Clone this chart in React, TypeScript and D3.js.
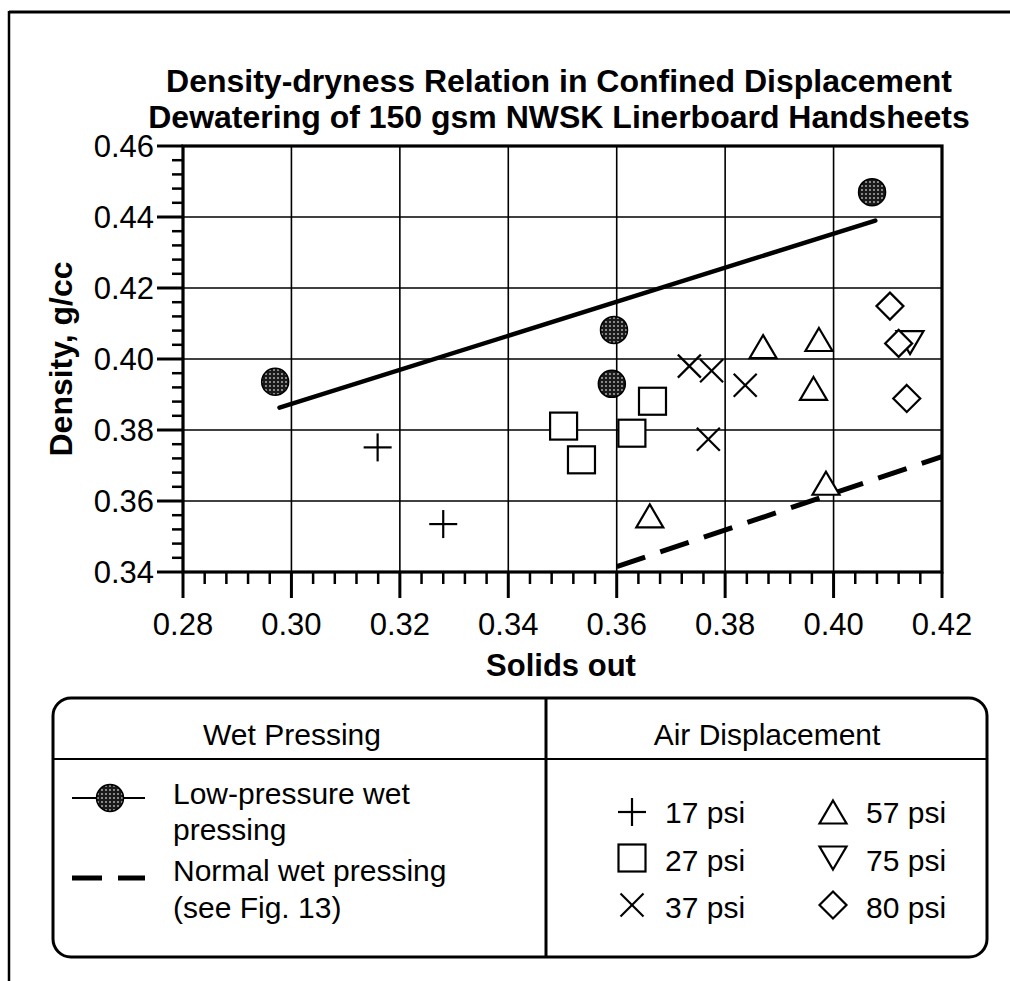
import React from "react";
import * as d3 from "d3";

const W = 1010;
const H = 981;

// ---- data ----
const xTicks = [0.28, 0.30, 0.32, 0.34, 0.36, 0.38, 0.40, 0.42];
const yTicks = [0.34, 0.36, 0.38, 0.40, 0.42, 0.44, 0.46];

const lowPressurePts: [number, number][] = [
  [0.2970, 0.3936],
  [0.3595, 0.4082],
  [0.3591, 0.3930],
  [0.4071, 0.4470],
];
const lowPressureFit: [number, number][] = [
  [0.2978, 0.3863],
  [0.4077, 0.4390],
];
const normalFit: [number, number][] = [
  [0.3600, 0.3415],
  [0.4200, 0.3725],
];
const psi17: [number, number][] = [
  [0.3159, 0.3751],
  [0.3280, 0.3535],
];
const psi27: [number, number][] = [
  [0.3502, 0.3811],
  [0.3535, 0.3716],
  [0.3628, 0.3791],
  [0.3666, 0.3881],
];
const psi37: [number, number][] = [
  [0.3734, 0.3980],
  [0.3775, 0.3967],
  [0.3837, 0.3926],
  [0.3769, 0.3774],
];
const psi57: [number, number][] = [
  [0.3870, 0.4035],
  [0.3973, 0.4055],
  [0.3963, 0.3917],
  [0.3986, 0.3650],
  [0.3661, 0.3558],
];
const psi75: [number, number][] = [[0.4141, 0.4046]];
const psi80: [number, number][] = [
  [0.4104, 0.4149],
  [0.4120, 0.4044],
  [0.4135, 0.3889],
];

const titleLines = [
  "Density-dryness Relation in Confined Displacement",
  "Dewatering of 150 gsm NWSK Linerboard Handsheets",
];
const airLegend = [
  { label: "17 psi", shape: "plus" },
  { label: "27 psi", shape: "square" },
  { label: "37 psi", shape: "cross" },
  { label: "57 psi", shape: "up" },
  { label: "75 psi", shape: "down" },
  { label: "80 psi", shape: "diamond" },
];

const FONT = "'Liberation Sans', Arial, Helvetica, sans-serif";

const x = d3.scaleLinear().domain([0.28, 0.42]).range([183, 942]);
const y = d3.scaleLinear().domain([0.34, 0.46]).range([572, 146]);

function Marker({ shape, cx, cy }: { shape: string; cx: number; cy: number }) {
  const sw = 2.2;
  if (shape === "plus") {
    const a = 14;
    return (
      <g stroke="#000" strokeWidth={sw}>
        <line x1={cx - a} y1={cy} x2={cx + a} y2={cy} />
        <line x1={cx} y1={cy - a} x2={cx} y2={cy + a} />
      </g>
    );
  }
  if (shape === "cross") {
    const a = 11.5;
    return (
      <g stroke="#000" strokeWidth={sw}>
        <line x1={cx - a} y1={cy - a} x2={cx + a} y2={cy + a} />
        <line x1={cx - a} y1={cy + a} x2={cx + a} y2={cy - a} />
      </g>
    );
  }
  if (shape === "square") {
    const a = 13.5;
    return <rect x={cx - a} y={cy - a} width={2 * a} height={2 * a} fill="#fff" stroke="#000" strokeWidth={sw} />;
  }
  if (shape === "up") {
    const w = 13.5, h = 11.5;
    return (
      <path d={`M${cx},${cy - h}L${cx + w},${cy + h}L${cx - w},${cy + h}Z`} fill="#fff" stroke="#000" strokeWidth={sw} />
    );
  }
  if (shape === "down") {
    const w = 13.5, h = 11.5;
    return (
      <path d={`M${cx},${cy + h}L${cx + w},${cy - h}L${cx - w},${cy - h}Z`} fill="#fff" stroke="#000" strokeWidth={sw} />
    );
  }
  if (shape === "diamond") {
    const a = 13.5;
    return (
      <path d={`M${cx},${cy - a}L${cx + a},${cy}L${cx},${cy + a}L${cx - a},${cy}Z`} fill="#fff" stroke="#000" strokeWidth={sw} />
    );
  }
  return <circle cx={cx} cy={cy} r={13.5} fill="url(#dots)" stroke="#000" strokeWidth={1.5} />;
}

export default function App() {
  const line = d3
    .line<[number, number]>()
    .x((d) => x(d[0]))
    .y((d) => y(d[1]));

  const xMinor = d3.range(0, 36).map((i) => 0.28 + i * 0.004).filter((v) => Math.abs(Math.round(v / 0.02) * 0.02 - v) > 1e-6);
  const yMinor = d3.range(0, 31).map((i) => 0.34 + i * 0.004).filter((v) => Math.abs(Math.round(v / 0.02) * 0.02 - v) > 1e-6);

  const [x0, x1] = x.range();
  const [y0, y1] = y.range();

  const series: { pts: [number, number][]; shape: string }[] = [
    { pts: psi17, shape: "plus" },
    { pts: psi27, shape: "square" },
    { pts: psi37, shape: "cross" },
    { pts: psi57, shape: "up" },
    { pts: psi75, shape: "down" },
    { pts: psi80, shape: "diamond" },
    { pts: lowPressurePts, shape: "circle" },
  ];

  // legend geometry
  const L = { x0: 53, x1: 987, y0: 698, y1: 957, mid: 546, head: 759 };
  const rowMarkerY = [812, 858, 905];
  const rowTextY = [823, 871, 918];

  return (
    <svg width={W} height={H} style={{ position: "absolute", left: 0, top: 0, background: "#fff" }} fontFamily={FONT}>
      <defs>
        <pattern id="dots" width="4" height="4" patternUnits="userSpaceOnUse">
          <rect width="4" height="4" fill="#1a1a1a" />
          <circle cx="2" cy="2" r="0.9" fill="#bbb" />
        </pattern>
      </defs>
      <rect width={W} height={H} fill="#fff" />

      {/* outer frame */}
      <line x1={9} y1={12} x2={1010} y2={12} stroke="#000" strokeWidth={3} />
      <line x1={9} y1={11} x2={9} y2={981} stroke="#000" strokeWidth={2.5} />

      {/* title */}
      {titleLines.map((t, i) => (
        <text key={i} x={559} y={92 + i * 36} textAnchor="middle" fontWeight="bold" fontSize={32}>
          {t}
        </text>
      ))}

      {/* grid */}
      {xTicks.slice(1, -1).map((v) => (
        <line key={"gx" + v} x1={x(v)} x2={x(v)} y1={y1} y2={y0} stroke="#000" strokeWidth={1.6} />
      ))}
      {yTicks.slice(1, -1).map((v) => (
        <line key={"gy" + v} x1={x0} x2={x1} y1={y(v)} y2={y(v)} stroke="#000" strokeWidth={1.6} />
      ))}

      {/* ticks */}
      {yTicks.map((v) => (
        <line key={"ty" + v} x1={x0 - 26} x2={x0} y1={y(v)} y2={y(v)} stroke="#000" strokeWidth={3} />
      ))}
      {yMinor.map((v) => (
        <line key={"tym" + v} x1={x0 - 11} x2={x0} y1={y(v)} y2={y(v)} stroke="#000" strokeWidth={2.5} />
      ))}
      {xTicks.map((v) => (
        <line key={"tx" + v} x1={x(v)} x2={x(v)} y1={y0} y2={y0 + 26} stroke="#000" strokeWidth={3} />
      ))}
      {xMinor.map((v) => (
        <line key={"txm" + v} x1={x(v)} x2={x(v)} y1={y0} y2={y0 + 12} stroke="#000" strokeWidth={2.5} />
      ))}

      {/* plot border */}
      <rect x={x0} y={y1} width={x1 - x0} height={y0 - y1} fill="none" stroke="#000" strokeWidth={3.2} />

      {/* tick labels */}
      {yTicks.map((v) => (
        <text key={"ly" + v} x={154} y={y(v) + 11} textAnchor="end" fontSize={31}>
          {v.toFixed(2)}
        </text>
      ))}
      {xTicks.map((v) => (
        <text key={"lx" + v} x={x(v)} y={635} textAnchor="middle" fontSize={31}>
          {v.toFixed(2)}
        </text>
      ))}

      {/* axis titles */}
      <text x={561} y={676} textAnchor="middle" fontWeight="bold" fontSize={31}>
        Solids out
      </text>
      <text transform={`translate(72,${y(0.40)}) rotate(-90)`} textAnchor="middle" fontWeight="bold" fontSize={32}>
        Density, g/cc
      </text>

      {/* fitted lines */}
      <path d={line(lowPressureFit) || ""} fill="none" stroke="#000" strokeWidth={4.5} strokeLinecap="round" />
      <path d={line(normalFit) || ""} fill="none" stroke="#000" strokeWidth={5} strokeDasharray="30 16" />

      {/* markers */}
      {series.map((s, si) =>
        s.pts.map((p, i) => <Marker key={si + "-" + i} shape={s.shape} cx={x(p[0])} cy={y(p[1])} />)
      )}

      {/* legend */}
      <rect x={L.x0} y={L.y0} width={L.x1 - L.x0} height={L.y1 - L.y0} rx={18} ry={18} fill="#fff" stroke="#000" strokeWidth={3} />
      <line x1={L.x0} x2={L.x1} y1={L.head} y2={L.head} stroke="#000" strokeWidth={1.8} />
      <line x1={L.mid} x2={L.mid} y1={L.y0} y2={L.y1} stroke="#000" strokeWidth={3} />
      <text x={292} y={745} textAnchor="middle" fontSize={30}>Wet Pressing</text>
      <text x={767} y={745} textAnchor="middle" fontSize={30}>Air Displacement</text>

      <line x1={72} x2={145} y1={798} y2={798} stroke="#000" strokeWidth={2} />
      <Marker shape="circle" cx={110} cy={798} />
      <line x1={72} x2={145} y1={878} y2={878} stroke="#000" strokeWidth={5} strokeDasharray="30 16" />
      <text x={173} y={804} fontSize={30}>Low-pressure wet</text>
      <text x={173} y={840} fontSize={30}>pressing</text>
      <text x={173} y={881} fontSize={30}>Normal wet pressing</text>
      <text x={173} y={918} fontSize={30}>(see Fig. 13)</text>

      {airLegend.map((item, i) => {
        const col = Math.floor(i / 3);
        const row = i % 3;
        const mx = col === 0 ? 632 : 833;
        const tx = col === 0 ? 665 : 866;
        return (
          <g key={item.label}>
            <Marker shape={item.shape} cx={mx} cy={rowMarkerY[row]} />
            <text x={tx} y={rowTextY[row]} fontSize={30}>
              {item.label}
            </text>
          </g>
        );
      })}
    </svg>
  );
}
